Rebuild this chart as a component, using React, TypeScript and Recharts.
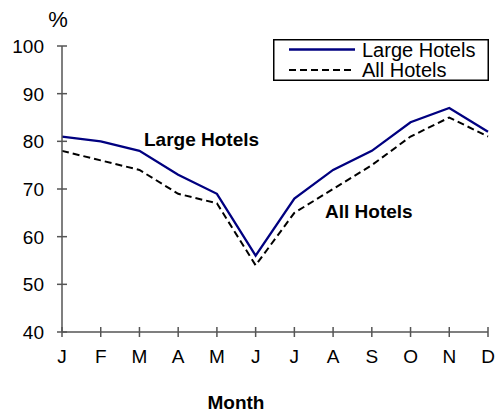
import React from "react";
import { LineChart, Line, XAxis, YAxis } from "recharts";

const months = ["J", "F", "M", "A", "M", "J", "J", "A", "S", "O", "N", "D"];
const largeHotels = [81, 80, 78, 73, 69, 56, 68, 74, 78, 84, 87, 82];
const allHotels = [78, 76, 74, 69, 67, 54, 65, 70, 75, 81, 85, 81];
const yTicks = [40, 50, 60, 70, 80, 90, 100];
const seriesNames = ["Large Hotels", "All Hotels"];

const data = months.map((m, i) => ({
  key: `${m}${i}`,
  month: m,
  large: largeHotels[i],
  all: allHotels[i],
}));

const FONT = "Arial, 'Liberation Sans', Helvetica, sans-serif";
const AXIS_COLOR = "#555";

const XTick = (props: any) => {
  const { x, y, payload } = props;
  const axisY = y - 8;
  return (
    <g>
      <line x1={x} x2={x} y1={axisY - 5} y2={axisY + 5} stroke={AXIS_COLOR} strokeWidth={1.5} />
      <text x={x} y={axisY + 31} textAnchor="middle" fontSize={19} fontFamily={FONT} fill="#000">
        {months[payload.index] ?? payload.value}
      </text>
    </g>
  );
};

const YTick = (props: any) => {
  const { x, y, payload } = props;
  const axisX = x + 8;
  return (
    <g>
      <line x1={axisX - 5} x2={axisX + 5} y1={y} y2={y} stroke={AXIS_COLOR} strokeWidth={1.5} />
      <text x={axisX - 18} y={y} dy="0.36em" textAnchor="end" fontSize={19} fontFamily={FONT} fill="#000">
        {payload.value}
      </text>
    </g>
  );
};

const LegendBox = ({ x, y }: { x: number; y: number }) => (
  <g transform={`translate(${x},${y})`}>
    <rect x={0.75} y={0.75} width={214.5} height={40.5} fill="#fff" stroke="#000" strokeWidth={1.5} />
    <line x1={16} x2={82} y1={10.5} y2={10.5} stroke="#000080" strokeWidth={2.3} />
    <line x1={16} x2={82} y1={31} y2={31} stroke="#000" strokeWidth={2} strokeDasharray="7 4" />
    <text x={89} y={10.5} dy="0.36em" fontSize={20} fontFamily={FONT} fill="#000">
      {seriesNames[0]}
    </text>
    <text x={89} y={31} dy="0.36em" fontSize={20} fontFamily={FONT} fill="#000">
      {seriesNames[1]}
    </text>
  </g>
);

export default function App() {
  return (
    <div style={{ position: "absolute", left: 0, top: 0, width: 496, height: 417, background: "#fff" }}>
      <LineChart
        width={496}
        height={417}
        data={data}
        margin={{ top: 46, right: 8, bottom: 55, left: 0 }}
      >
        <XAxis
          dataKey="key"
          height={30}
          interval={0}
          tickSize={6}
          tickMargin={2}
          tickLine={false}
          axisLine={{ stroke: AXIS_COLOR, strokeWidth: 1.5 }}
          tick={<XTick />}
        />
        <YAxis
          width={62}
          domain={[40, 100]}
          ticks={yTicks}
          interval={0}
          tickSize={6}
          tickMargin={2}
          tickLine={false}
          axisLine={{ stroke: AXIS_COLOR, strokeWidth: 1.5 }}
          tick={<YTick />}
        />
        <Line
          dataKey="large"
          name={seriesNames[0]}
          stroke="#000080"
          strokeWidth={2.3}
          dot={false}
          isAnimationActive={false}
        />
        <Line
          dataKey="all"
          name={seriesNames[1]}
          stroke="#000"
          strokeWidth={2}
          strokeDasharray="7 4"
          dot={false}
          isAnimationActive={false}
        />
        <LegendBox x={273} y={39} />
        <text x={58} y={27} textAnchor="middle" fontSize={22} fontFamily={FONT} fill="#000">%</text>
        <text x={144} y={146} fontSize={19} fontWeight="bold" fontFamily={FONT} fill="#000">Large Hotels</text>
        <text x={325} y={218} fontSize={19} fontWeight="bold" fontFamily={FONT} fill="#000">All Hotels</text>
        <text x={236} y={409} textAnchor="middle" fontSize={19} fontWeight="bold" fontFamily={FONT} fill="#000">Month</text>
      </LineChart>
    </div>
  );
}
